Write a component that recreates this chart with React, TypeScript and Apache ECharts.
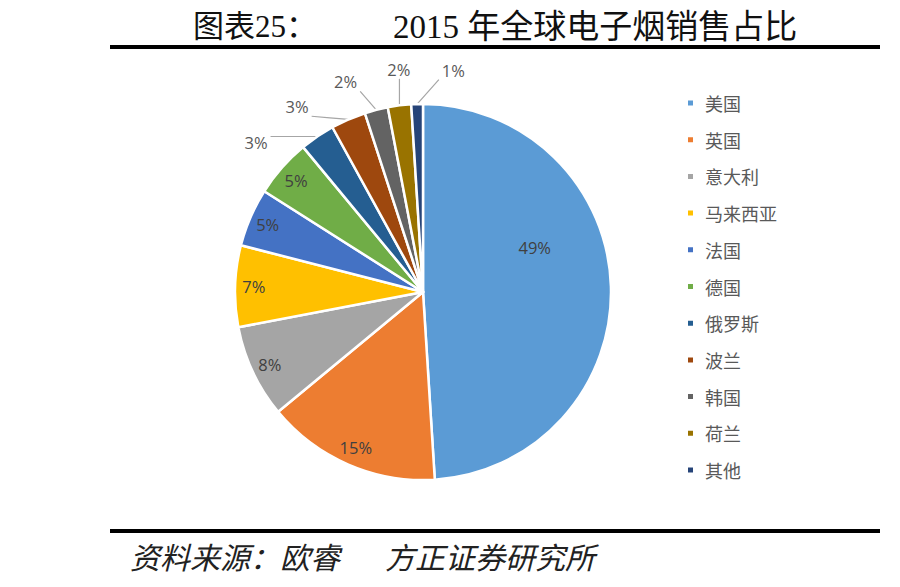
import React, { useEffect, useRef } from "react";
import * as echarts from "echarts";

const categories = ["美国", "英国", "意大利", "马来西亚", "法国", "德国", "俄罗斯", "波兰", "韩国", "荷兰", "其他"];
const shares = [49, 15, 8, 7, 5, 5, 3, 3, 2, 2, 1];
const colors = ["#5B9BD5", "#ED7D31", "#A5A5A5", "#FFC000", "#4472C4", "#70AD47", "#255E91", "#9E480E", "#636363", "#997300", "#264478"];
const titleLabel = "图表25：";
const titleText = "2015 年全球电子烟销售占比";
const sourceLeft = "资料来源：欧睿";
const sourceRight = "方正证券研究所";

export default function App() {
  const ref = useRef<HTMLDivElement>(null);
  useEffect(() => {
    const chart = echarts.init(ref.current!, null, { renderer: "svg" });
    const cx = 423, cy = 292, R = 188;
    const total = shares.reduce((a, b) => a + b, 0);
    const mids: number[] = [];
    let acc = 0;
    shares.forEach((v) => { mids.push(((acc + v / 2) / total) * 360); acc += v; });
    const smallIdx = shares.map((v, i) => (v / total < 0.04 ? i : -1)).filter((i) => i >= 0);
    const groupMean = smallIdx.reduce((a, i) => a + mids[i], 0) / Math.max(1, smallIdx.length);
    const dir = (deg: number) => [Math.sin((deg * Math.PI) / 180), -Math.cos((deg * Math.PI) / 180)];
    const clamp = (v: number, lo: number, hi: number) => Math.max(lo, Math.min(hi, v));

    const data = categories.map((name, i) => {
      const small = smallIdx.indexOf(i) >= 0;
      return {
        name,
        value: shares[i],
        itemStyle: { color: colors[i] },
        label: { position: small ? "outside" : "inside", color: small ? "#595959" : "#404040" },
        labelLine: { show: small },
      };
    });

    chart.setOption({
      animation: false,
      backgroundColor: "#ffffff",
      legend: {
        orient: "vertical",
        left: 686,
        top: 93,
        padding: 0,
        itemWidth: 7,
        itemHeight: 7,
        itemGap: 16.7,
        icon: "rect",
        data: categories,
        textStyle: { fontSize: 18, lineHeight: 20, color: "#595959", fontFamily: "Noto Sans CJK SC", padding: [0, 0, 0, 6] },
      },
      series: [
        {
          type: "pie",
          center: [cx, cy],
          radius: [0, R],
          startAngle: 90,
          clockwise: true,
          avoidLabelOverlap: false,
          itemStyle: { borderColor: "#ffffff", borderWidth: 2.5 },
          label: {
            show: true,
            formatter: "{c}%",
            fontSize: 16.5,
            fontFamily: "Open Sans",
          },
          labelLine: { lineStyle: { color: "#A6A6A6", width: 1.2 }, length: 10, length2: 10 },
          labelLayout: (p: any) => {
            const i = p.dataIndex;
            const w = p.labelRect.width, h = p.labelRect.height;
            const k = smallIdx.indexOf(i);
            if (k >= 0) {
              const a = groupMean - 4 + (k - (smallIdx.length - 1) / 2) * 14;
              const [dx, dy] = dir(a);
              const lx = cx + dx * (R + 36), ly = cy + dy * (R + 36);
              const [ex, ey] = dir(mids[i]);
              const sx = cx + ex * R, sy = cy + ey * R;
              const tx = clamp(sx, lx - w / 2 - 3, lx + w / 2 + 3);
              const ty = clamp(sy, ly - h / 2 - 1, ly + h / 2 + 1);
              return {
                x: lx, y: ly, align: "center", verticalAlign: "middle",
                labelLinePoints: [[sx, sy], [(sx + tx) / 2, (sy + ty) / 2], [tx, ty]],
              };
            }
            const a = i === 0 ? mids[i] - 20 : mids[i];
            const rr = i === 0 ? 0.64 * R : 0.9 * R;
            const [dx, dy] = dir(a);
            return { x: cx + dx * rr, y: cy + dy * rr, align: "center", verticalAlign: "middle" };
          },
          data,
        },
      ],
      graphic: [
        { type: "text", left: 193, top: 11, style: { text: titleLabel, fontSize: 31, fontFamily: "Liberation Serif, Noto Sans CJK SC", fill: "#111" } },
        { type: "text", left: 393, top: 10, style: { text: titleText, fontSize: 33, fontFamily: "Liberation Serif, Noto Sans CJK SC", fill: "#111" } },
        { type: "rect", shape: { x: 110, y: 45, width: 770, height: 4 }, style: { fill: "#000" } },
        { type: "rect", shape: { x: 110, y: 529, width: 770, height: 4 }, style: { fill: "#000" } },
        { type: "text", left: 130, top: 541, style: { text: sourceLeft, fontSize: 30, fontStyle: "italic", fontFamily: "Noto Sans CJK SC", fill: "#222" } },
        { type: "text", left: 385, top: 541, style: { text: sourceRight, fontSize: 30, fontStyle: "italic", fontFamily: "Noto Sans CJK SC", fill: "#222" } },
      ],
    });
    return () => chart.dispose();
  }, []);
  return <div ref={ref} style={{ position: "fixed", left: 0, top: 0, width: 900, height: 587 }} />;
}
